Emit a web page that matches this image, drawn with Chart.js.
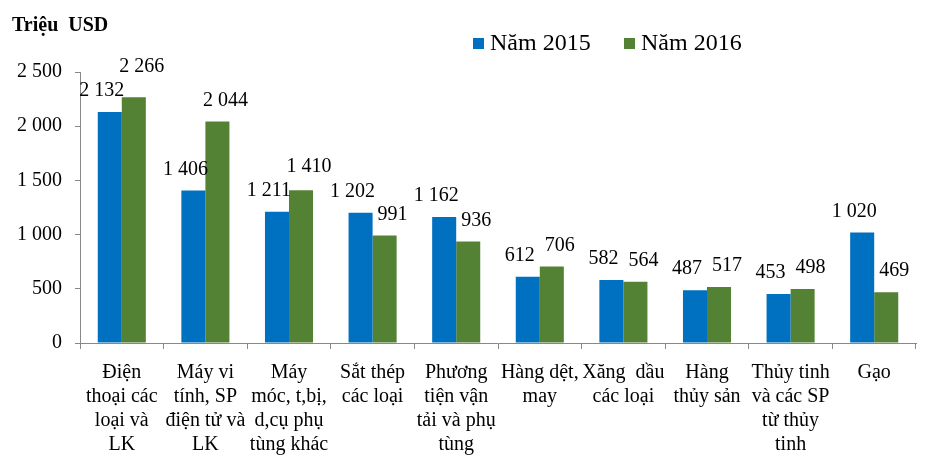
<!DOCTYPE html>
<html>
<head>
<meta charset="utf-8">
<script src="https://cdn.jsdelivr.net/npm/chart.js@4/dist/chart.umd.min.js"></script>
<style>
html,body{margin:0;padding:0;background:#fff;}
#wrap{width:941px;height:472px;position:relative;}
</style>
</head>
<body>
<div id="wrap"><canvas id="c" width="941" height="472"></canvas></div>
<script>
const categories = [
  ["Điện", "thoại các", "loại và", "LK"],
  ["Máy vi", "tính, SP", "điện tử và", "LK"],
  ["Máy", "móc, t,bị,", "d,cụ phụ", "tùng khác"],
  ["Sắt thép", "các loại"],
  ["Phương", "tiện vận", "tải và phụ", "tùng"],
  ["Hàng dệt,", "may"],
  ["Xăng  dầu", "các loại"],
  ["Hàng", "thủy sản"],
  ["Thủy tinh", "và các SP", "từ thủy", "tinh"],
  ["Gạo"]
];
const values2015 = [2132, 1406, 1211, 1202, 1162, 612, 582, 487, 453, 1020];
const values2016 = [2266, 2044, 1410, 991, 936, 706, 564, 517, 498, 469];
const seriesNames = ["Năm 2015", "Năm 2016"];
const yTicks = [0, 500, 1000, 1500, 2000, 2500];
const unitLabel = "Triệu  USD";

const BLUE = "#0070C0";
const GREEN = "#548235";
const FONT = "'Liberation Serif', 'Times New Roman', serif";

function fmt(v){ return String(v).replace(/\B(?=(\d{3})+(?!\d))/g, " "); }

const decorPlugin = {
  id: "decor",
  afterDatasetsDraw(chart){
    const ctx = chart.ctx;
    ctx.save();
    // data labels: blue nudged left, green nudged right, stacked apart when they collide
    ctx.font = "20px " + FONT;
    ctx.fillStyle = "#000";
    ctx.textAlign = "center";
    ctx.textBaseline = "middle";
    const m0 = chart.getDatasetMeta(0), m1 = chart.getDatasetMeta(1);
    const d0 = chart.data.datasets[0].data, d1 = chart.data.datasets[1].data;
    const GAP = 21, DX = 8, TH = 24;
    for (let i = 0; i < d0.length; i++) {
      const a = {t: fmt(d0[i]), x: m0.data[i].x - DX, y: m0.data[i].y - GAP};
      const b = {t: fmt(d1[i]), x: m1.data[i].x + DX, y: m1.data[i].y - GAP};
      a.w = ctx.measureText(a.t).width; b.w = ctx.measureText(b.t).width;
      const hOverlap = (a.x + a.w / 2) > (b.x - b.w / 2);
      if (hOverlap && Math.abs(a.y - b.y) < TH) {
        if (d1[i] >= d0[i]) b.y = a.y - TH; else a.y = b.y - TH;
      }
      ctx.fillText(a.t, a.x, a.y);
      ctx.fillText(b.t, b.x, b.y);
    }
    // unit title
    ctx.font = "bold 20px " + FONT;
    ctx.textAlign = "left";
    ctx.fillText(unitLabel, 12, 26);
    // legend
    ctx.font = "24px " + FONT;
    const items = [
      {x: 473, color: BLUE, text: seriesNames[0]},
      {x: 624, color: GREEN, text: seriesNames[1]}
    ];
    items.forEach(it => {
      ctx.fillStyle = it.color;
      ctx.fillRect(it.x, 38, 11, 11);
      ctx.fillStyle = "#000";
      ctx.fillText(it.text, it.x + 17, 44);
    });
    ctx.restore();
  }
};

new Chart(document.getElementById("c"), {
  type: "bar",
  data: {
    labels: categories,
    datasets: [
      {label: seriesNames[0], data: values2015, backgroundColor: BLUE, borderWidth: 0},
      {label: seriesNames[1], data: values2016, backgroundColor: GREEN, borderWidth: 0}
    ]
  },
  options: {
    responsive: false,
    animation: false,
    devicePixelRatio: 1,
    layout: {padding: {top: 72, right: 25, left: 0, bottom: 0}},
    plugins: {legend: {display: false}, title: {display: false}, tooltip: {enabled: false}},
    datasets: {bar: {barPercentage: 1.0, categoryPercentage: 0.575}},
    scales: {
      x: {
        grid: {display: true, drawOnChartArea: false, drawTicks: true, tickLength: 6, color: "#888", offset: true},
        border: {display: true, color: "#888", width: 1},
        ticks: {
          autoSkip: false, maxRotation: 0, minRotation: 0, padding: 12,
          color: "#000",
          font: {family: FONT, size: 20, lineHeight: 1.2}
        },
        afterFit(scale){ scale.height = 129; }
      },
      y: {
        min: 0, max: 2500,
        afterBuildTicks(scale){ scale.ticks = yTicks.map(v => ({value: v})); },
        grid: {display: true, drawOnChartArea: false, drawTicks: true, tickLength: 5, color: "#888"},
        border: {display: true, color: "#888", width: 1},
        ticks: {
          color: "#000", padding: 13,
          font: {family: FONT, size: 20},
          callback: v => fmt(v)
        },
        afterFit(scale){ scale.width = 80; }
      }
    }
  },
  plugins: [decorPlugin]
});
</script>
</body>
</html>
